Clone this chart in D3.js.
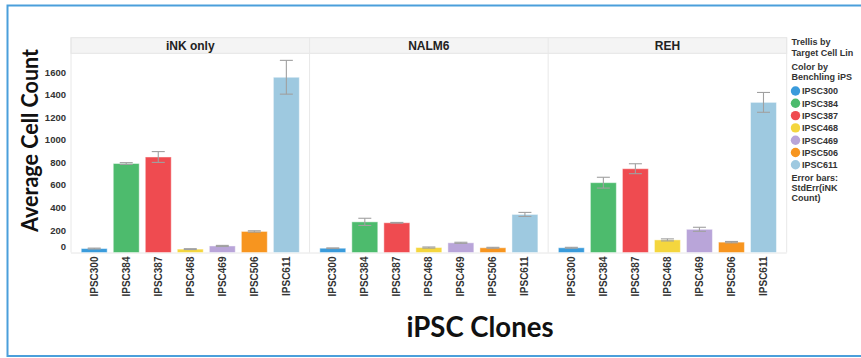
<!DOCTYPE html>
<html>
<head>
<meta charset="utf-8">
<script src="https://cdn.jsdelivr.net/npm/d3@7"></script>
<style>
  html, body { margin: 0; padding: 0; background: #fff; }
  svg { display: block; }
</style>
</head>
<body>
<svg id="chart" width="861" height="358"></svg>
<script>
// Target cell lines (trellis panels) and iPSC clones (bars within each panel)
const panels = ["iNK only", "NALM6", "REH"];
const clones = ["IPSC300", "IPSC384", "IPSC387", "IPSC468", "IPSC469", "IPSC506", "IPSC611"];
const cloneColors = ["#3a9bdb", "#4dbb6d", "#ef4b50", "#f4d63e", "#b9a5d9", "#f7951f", "#9ec9e0"];

// Average cell count per clone, one array per panel
const meanINK   = [35, 790, 848, 30, 58, 187, 1556];
const meanNALM6 = [38, 272, 264, 44, 86, 42, 338];
const meanREH   = [42, 620, 744, 112, 206, 92, 1333];
// Standard error of the count per clone
const errINK   = [4, 8, 48, 4, 5, 6, 150];
const errNALM6 = [3, 32, 3, 5, 5, 4, 18];
const errREH   = [4, 48, 44, 9, 18, 6, 88];

const yTicks = [0, 200, 400, 600, 800, 1000, 1200, 1400, 1600];

const means = [meanINK, meanNALM6, meanREH];
const errs = [errINK, errNALM6, errREH];

const svg = d3.select("#chart");
const font = "'Liberation Sans', Arial, sans-serif";

// Frame around the figure
svg.append("rect").attr("x", 7.5).attr("y", 5.5).attr("width", 870).attr("height", 350.5)
  .attr("fill", "none").attr("stroke", "#4b9fdb").attr("stroke-width", 2);

const plotLeft = 71, plotRight = 786.7;
const headerTop = 37.7, headerBottom = 53.3, baseY = 252.5;

const px = d3.scaleBand().domain(panels).range([plotLeft, plotRight]);
const bx = d3.scaleBand().domain(clones).range([0, px.bandwidth()])
  .paddingInner(0.19).paddingOuter(0.32);
const y = d3.scaleLinear().domain([0, 1600]).range([baseY, 72.3]);
const color = d3.scaleOrdinal().domain(clones).range(cloneColors);

// Header band
svg.append("rect").attr("x", plotLeft).attr("y", headerTop)
  .attr("width", plotRight - plotLeft).attr("height", headerBottom - headerTop)
  .attr("fill", "#f4f4f4").attr("stroke", "#e4e4e4").attr("stroke-width", 1);

// Panel dividers
svg.append("g").selectAll("line").data(panels.concat(["__end"])).join("line")
  .attr("x1", (d, i) => i < panels.length ? px(d) : plotRight)
  .attr("x2", (d, i) => i < panels.length ? px(d) : plotRight)
  .attr("y1", headerTop).attr("y2", baseY)
  .attr("stroke", "#e8e8e8").attr("stroke-width", 1);

// Baseline
svg.append("line").attr("x1", plotLeft).attr("x2", plotRight)
  .attr("y1", baseY + 0.5).attr("y2", baseY + 0.5)
  .attr("stroke", "#e6e6e6").attr("stroke-width", 1);

// Panel titles
svg.append("g").selectAll("text").data(panels).join("text")
  .attr("x", d => px(d) + px.bandwidth() / 2).attr("y", 49.8)
  .attr("text-anchor", "middle")
  .attr("font-family", font).attr("font-weight", "bold").attr("font-size", 12)
  .attr("fill", "#222").text(d => d);

// Y axis tick labels
const yAxis = d3.axisLeft(y).tickValues(yTicks).tickFormat(d3.format("d"))
  .tickSize(0).tickPadding(0);
const yg = svg.append("g").attr("transform", `translate(66,0)`).call(yAxis);
yg.select(".domain").remove();
yg.selectAll("text")
  .attr("font-family", font).attr("font-weight", "bold").attr("font-size", 9.5)
  .attr("fill", "#333")
  .attr("dy", d => d === 0 ? "-0.3em" : "0.32em");

// Bars, error bars and clone labels per panel
panels.forEach((p, pi) => {
  const g = svg.append("g").attr("transform", `translate(${px(p)},0)`);
  const rows = clones.map((c, i) => ({ c, v: means[pi][i], e: errs[pi][i] }));

  g.selectAll("rect.bar").data(rows).join("rect").attr("class", "bar")
    .attr("x", d => bx(d.c)).attr("width", bx.bandwidth())
    .attr("y", d => y(d.v)).attr("height", d => y(0) - y(d.v))
    .attr("fill", d => color(d.c))
    .attr("stroke", "#ffffff").attr("stroke-opacity", 0.45).attr("stroke-width", 1);

  const eb = g.selectAll("g.err").data(rows).join("g").attr("class", "err")
    .attr("transform", d => `translate(${bx(d.c) + bx.bandwidth() / 2},0)`)
    .attr("stroke", "#a0a0a0").attr("stroke-width", 1.1);
  eb.append("line").attr("y1", d => y(d.v + d.e)).attr("y2", d => y(Math.max(0, d.v - d.e)));
  eb.append("line").attr("x1", -6.5).attr("x2", 6.5)
    .attr("y1", d => y(d.v + d.e)).attr("y2", d => y(d.v + d.e));
  eb.append("line").attr("x1", -6.5).attr("x2", 6.5)
    .attr("y1", d => y(Math.max(0, d.v - d.e))).attr("y2", d => y(Math.max(0, d.v - d.e)));

  g.selectAll("text.lab").data(clones).join("text").attr("class", "lab")
    .attr("transform", d => `translate(${bx(d) + bx.bandwidth() / 2 + 3.5},256.5) rotate(-90)`)
    .attr("text-anchor", "end")
    .attr("font-family", font).attr("font-weight", "bold").attr("font-size", 10)
    .attr("fill", "#333").text(d => d);
});

// Axis titles
svg.append("text")
  .attr("transform", `translate(38,140.5) rotate(-90)`)
  .attr("text-anchor", "middle")
  .attr("font-family", "Lato, 'Open Sans', sans-serif").attr("font-weight", "bold")
  .attr("font-size", 23).attr("fill", "#111")
  .attr("textLength", 183).attr("lengthAdjust", "spacingAndGlyphs")
  .text("Average Cell Count");

svg.append("text")
  .attr("x", 480).attr("y", 337)
  .attr("text-anchor", "middle")
  .attr("font-family", "Lato, 'Open Sans', sans-serif").attr("font-weight", "bold")
  .attr("font-size", 29).attr("fill", "#111")
  .attr("textLength", 147).attr("lengthAdjust", "spacingAndGlyphs")
  .text("iPSC Clones");

// Legend
const legendX = 791.5;
const lg = svg.append("g").attr("font-family", font).attr("font-weight", "bold")
  .attr("font-size", 9).attr("fill", "#333");
const headLines = [["Trellis by", 45], ["Target Cell Lin", 55.5], ["Color by", 69.5], ["Benchling iPS", 80]];
lg.selectAll("text.head").data(headLines).join("text").attr("class", "head")
  .attr("x", legendX).attr("y", d => d[1]).text(d => d[0]);

const ly = d3.scalePoint().domain(clones).range([91, 164.8]);
lg.selectAll("circle").data(clones).join("circle")
  .attr("cx", 795.5).attr("cy", d => ly(d)).attr("r", 4.7).attr("fill", d => color(d));
lg.selectAll("text.item").data(clones).join("text").attr("class", "item")
  .attr("x", 802).attr("y", d => ly(d) + 3.3).text(d => d);

const footLines = [["Error bars:", 180.5], ["StdErr(iNK", 191], ["Count)", 201]];
lg.selectAll("text.foot").data(footLines).join("text").attr("class", "foot")
  .attr("x", legendX).attr("y", d => d[1]).text(d => d[0]);
</script>
</body>
</html>
